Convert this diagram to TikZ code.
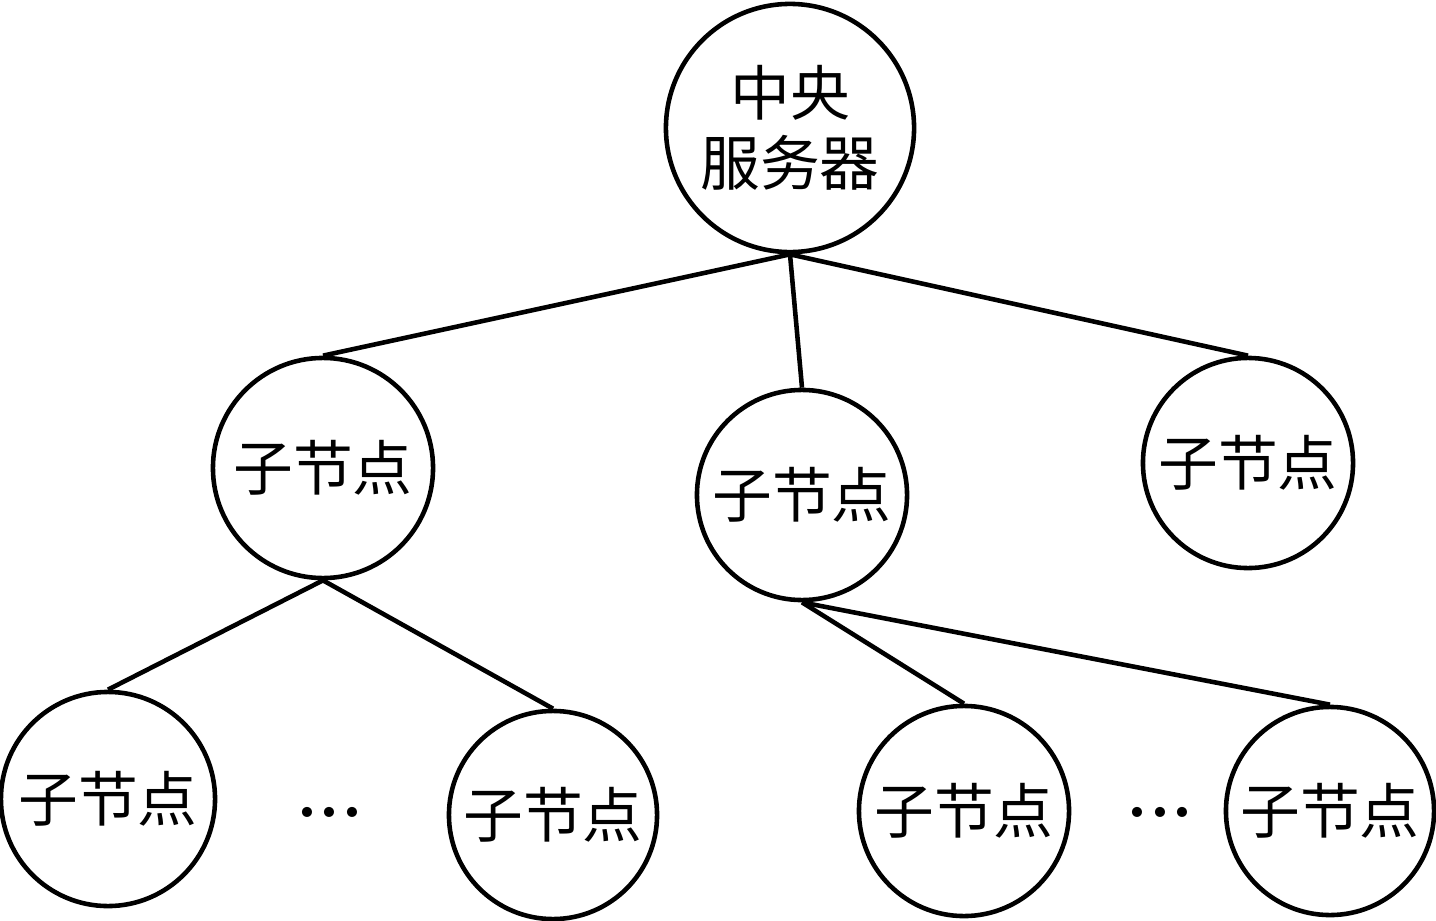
\documentclass[tikz,border=0pt]{standalone}
\usepackage{fontspec}
\newfontfamily\cjk{Noto Sans CJK SC}
\usetikzlibrary{positioning}
\tikzset{nd/.style={circle,draw,line width=1.3pt,inner sep=0pt,align=center,font=\cjk\fontsize{17}{20}\selectfont},
         gap/.style={font=\fontsize{20}{20}\selectfont\bfseries}}

\begin{document}
\begin{tikzpicture}[x=0.01cm,y=-0.01cm,line width=1.3pt]
        \useasboundingbox (0,0) rectangle (1436,921);
        \node[nd,minimum size=2.48cm] (srv) at (790,128) {中央\\服务器};
        \node[nd,minimum size=2.2cm] (c1) at (323,468) {子节点};
        \node[nd,minimum size=2.1cm] (c2) at (802,495) {子节点};
        \node[nd,minimum size=2.1cm] (c3) at (1248,463) {子节点};
        \node[nd,minimum size=2.14cm] (c11) at (108,799) {子节点};
        \node[nd,minimum size=2.08cm] (c12) at (553,815) {子节点};
        \node[nd,minimum size=2.1cm] (c21) at (964,811) {子节点};
        \node[nd,minimum size=2.08cm] (c22) at (1330,811) {子节点};
        \node[gap] (d1) at (330,812) {...};
        \node[gap] (d2) at (1160,812) {...};
        \draw (srv.south) -- (c1.north);
        \draw (srv.south) -- (c2.north);
        \draw (srv.south) -- (c3.north);
        \draw (c1.south) -- (c11.north);
        \draw (c1.south) -- (c12.north);
        \draw (c2.south) -- (c21.north);
        \draw (c2.south) -- (c22.north);
\end{tikzpicture}
\end{document}
